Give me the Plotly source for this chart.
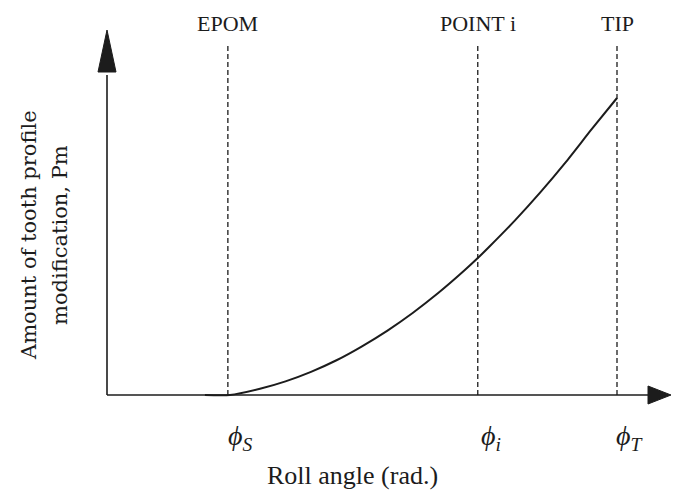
import plotly.graph_objects as go

# ---- data (normalised: roll angle with phi_T = 1, Pm with Pm(phi_T) = 1) ----
roll_angle = [0.192, 0.241, 0.30, 0.35, 0.40, 0.45, 0.50, 0.55, 0.60, 0.65, 0.70, 0.727,
              0.75, 0.80, 0.85, 0.90, 0.95, 1.00]
pm_amount = [0.000, 0.000, 0.021, 0.046, 0.078, 0.117, 0.164, 0.217, 0.277, 0.344, 0.418, 0.461,
             0.500, 0.588, 0.683, 0.785, 0.894, 1.000]

marker_names = ["EPOM", "POINT i", "TIP"]
marker_x = [0.237, 0.727, 1.0]
marker_symbols = ["<i>ϕ<sub>S</sub></i>", "<i>ϕ<sub>i</sub></i>", "<i>ϕ<sub>T</sub></i>"]

x_title = "Roll angle (rad.)"
y_title_lines = ["Amount of tooth profile", "modification, Pm"]

# ---- geometry helpers (figure pixel -> data) ----
W, H = 685, 498
X0, SX = 107, 510   # pixel of x=0, pixels per unit
Y0, SY = 395, 297   # pixel of y=0, pixels per unit


def dx(px):
    return (px - X0) / SX


def dy(py):
    return (Y0 - py) / SY


FONT = "Liberation Serif"
YFONT = "DejaVu Serif"
INK = "#1c1c1c"

fig = go.Figure()

fig.add_trace(go.Scatter(
    x=roll_angle, y=pm_amount, mode="lines",
    line=dict(color=INK, width=2, shape="spline", smoothing=0.6),
    hoverinfo="skip", showlegend=False,
))

shapes = []
# axes
shapes.append(dict(type="line", xref="x", yref="y", x0=0, y0=0, x1=dx(652), y1=0,
                   line=dict(color=INK, width=1.6)))
shapes.append(dict(type="line", xref="x", yref="y", x0=0, y0=0, x1=0, y1=dy(75),
                   line=dict(color=INK, width=1.6)))
# arrow heads
shapes.append(dict(type="path", xref="x", yref="y",
                   path=f"M {dx(671)} 0 L {dx(648)} {dy(386)} L {dx(648)} {dy(404)} Z",
                   fillcolor=INK, line=dict(color=INK, width=1)))
shapes.append(dict(type="path", xref="x", yref="y",
                   path=f"M 0 {dy(30)} L {dx(98)} {dy(72)} L {dx(116)} {dy(72)} Z",
                   fillcolor=INK, line=dict(color=INK, width=1)))
# dashed markers
for mx in marker_x:
    shapes.append(dict(type="line", xref="x", yref="y", x0=mx, y0=0, x1=mx, y1=dy(46),
                       line=dict(color=INK, width=1.3, dash="5px,3px")))

annotations = []
for name, mx in zip(marker_names, marker_x):
    annotations.append(dict(x=mx, y=dy(23), xref="x", yref="y", text=name, showarrow=False,
                            font=dict(family=FONT, size=22, color=INK)))
for sym, mx in zip(marker_symbols, marker_x):
    annotations.append(dict(x=mx + dx(X0 + 13), y=dy(437), xref="x", yref="y", text=sym,
                            showarrow=False, font=dict(family=FONT, size=28, color=INK)))
annotations.append(dict(x=dx(352), y=dy(475), xref="x", yref="y", text=x_title, showarrow=False,
                        font=dict(family=FONT, size=26, color=INK)))
for line_txt, px in zip(y_title_lines, [29, 60]):
    annotations.append(dict(x=dx(px), y=dy(235), xref="x", yref="y", text=line_txt,
                            showarrow=False, textangle=-90,
                            font=dict(family=YFONT, size=21, color=INK)))

fig.update_layout(
    width=W, height=H,
    margin=dict(l=0, r=0, t=0, b=0),
    paper_bgcolor="white", plot_bgcolor="white",
    xaxis=dict(range=[dx(0), dx(W)], visible=False, fixedrange=True),
    yaxis=dict(range=[dy(H), dy(0)], visible=False, fixedrange=True),
    shapes=shapes, annotations=annotations,
    showlegend=False,
)

fig.write_html("out.html")
